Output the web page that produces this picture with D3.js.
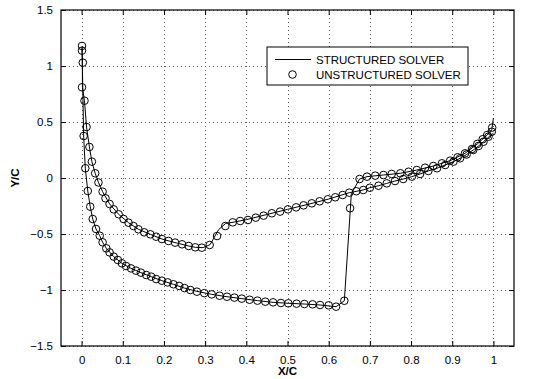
<!DOCTYPE html>
<html>
<head>
<meta charset="utf-8">
<script src="https://cdn.jsdelivr.net/npm/d3@7"></script>
<style>
  body { margin: 0; background: #fff; }
  svg { display: block; font-family: "Liberation Sans", Arial, sans-serif; }
</style>
</head>
<body>
<div id="chart"></div>
<script>
// Tick values
const xTicks = [0, 0.1, 0.2, 0.3, 0.4, 0.5, 0.6, 0.7, 0.8, 0.9, 1];
const yTicks = [-1.5, -1, -0.5, 0, 0.5, 1, 1.5];

// Structured solver: one continuous line, trailing edge -> leading edge -> trailing edge
const structuredLine = [
  [1.0, 0.40], [0.99, 0.37], [0.976, 0.324], [0.964, 0.286], [0.951, 0.25], [0.935, 0.21],
  [0.919, 0.176], [0.903, 0.146], [0.883, 0.116], [0.863, 0.087], [0.842, 0.063], [0.822, 0.036],
  [0.802, 0.012], [0.781, -0.009], [0.761, -0.027], [0.741, -0.048], [0.721, -0.069], [0.70, -0.087],
  [0.684, -0.107], [0.65, -0.131], [0.6, -0.188], [0.55, -0.235], [0.5, -0.28], [0.45, -0.326],
  [0.4, -0.372], [0.37, -0.394], [0.35, -0.405], [0.333, -0.46], [0.312, -0.595], [0.295, -0.622],
  [0.276, -0.619], [0.26, -0.607], [0.227, -0.577], [0.195, -0.545], [0.167, -0.503], [0.138, -0.458],
  [0.114, -0.399], [0.09, -0.324], [0.068, -0.232], [0.051, -0.122], [0.041, -0.04], [0.033, 0.042],
  [0.025, 0.146], [0.019, 0.277], [0.012, 0.455], [0.007, 0.69], [0.002, 0.81], [0.002, 1.03],
  [0.001, 1.17],
  [0.005, 0.375], [0.009, 0.087], [0.015, -0.116], [0.021, -0.256], [0.027, -0.366], [0.035, -0.455],
  [0.044, -0.515], [0.051, -0.574], [0.06, -0.628], [0.078, -0.702], [0.098, -0.762], [0.12, -0.807],
  [0.144, -0.845], [0.169, -0.881], [0.195, -0.917], [0.223, -0.949], [0.25, -0.983], [0.28, -1.012],
  [0.316, -1.039], [0.353, -1.06], [0.389, -1.077], [0.427, -1.095], [0.465, -1.11], [0.502, -1.119],
  [0.541, -1.125], [0.579, -1.134], [0.618, -1.149], [0.638, -1.096], [0.655, -0.14], [0.675, -0.009],
  [0.693, 0.012], [0.733, 0.027], [0.774, 0.042], [0.814, 0.071], [0.854, 0.107], [0.895, 0.155],
  [0.931, 0.22], [0.961, 0.304], [0.985, 0.384], [0.996, 0.43], [1.0, 0.535]
];

// Unstructured solver markers
const unstructStagnation = [
  [0.001, 1.179], [0.001, 1.137], [0.003, 1.03], [0.001, 0.81], [0.007, 0.69]
];
const unstructBranchA = [
  [0.012, 0.455], [0.019, 0.277], [0.025, 0.146], [0.033, 0.042], [0.041, -0.04], [0.051, -0.122],
  [0.058, -0.181], [0.068, -0.232], [0.078, -0.28], [0.09, -0.324], [0.102, -0.366], [0.114, -0.399],
  [0.126, -0.429], [0.138, -0.458], [0.152, -0.485], [0.167, -0.503], [0.181, -0.524], [0.195, -0.545],
  [0.211, -0.562], [0.227, -0.577], [0.244, -0.592], [0.26, -0.607], [0.276, -0.619], [0.292, -0.622],
  [0.311, -0.598], [0.329, -0.518], [0.349, -0.429], [0.367, -0.396], [0.385, -0.384], [0.404, -0.375],
  [0.423, -0.354], [0.442, -0.336], [0.462, -0.315], [0.482, -0.30], [0.501, -0.28], [0.521, -0.262],
  [0.539, -0.244], [0.559, -0.226], [0.578, -0.208], [0.598, -0.19], [0.616, -0.172], [0.634, -0.152],
  [0.65, -0.131], [0.667, -0.118], [0.684, -0.107], [0.70, -0.087], [0.721, -0.069], [0.741, -0.048],
  [0.761, -0.027], [0.781, -0.009], [0.802, 0.012], [0.822, 0.036], [0.842, 0.063], [0.863, 0.087],
  [0.883, 0.116], [0.903, 0.146], [0.919, 0.176], [0.935, 0.21], [0.951, 0.25], [0.964, 0.286],
  [0.976, 0.324], [0.988, 0.369]
];
const unstructBranchB = [
  [0.005, 0.375], [0.009, 0.087], [0.015, -0.116], [0.021, -0.256], [0.027, -0.366], [0.035, -0.455],
  [0.044, -0.515], [0.051, -0.574], [0.06, -0.628], [0.068, -0.664], [0.078, -0.702], [0.088, -0.732],
  [0.098, -0.762], [0.108, -0.786], [0.12, -0.807], [0.132, -0.827], [0.144, -0.845], [0.157, -0.866],
  [0.169, -0.881], [0.181, -0.902], [0.195, -0.917], [0.209, -0.932], [0.223, -0.949], [0.237, -0.964],
  [0.25, -0.983], [0.264, -1.0], [0.28, -1.015], [0.298, -1.028], [0.316, -1.039], [0.335, -1.051],
  [0.353, -1.06], [0.371, -1.068], [0.389, -1.077], [0.408, -1.087], [0.427, -1.095], [0.446, -1.104],
  [0.465, -1.11], [0.484, -1.116], [0.502, -1.119], [0.522, -1.122], [0.541, -1.125], [0.561, -1.128],
  [0.579, -1.134], [0.6, -1.137], [0.618, -1.149], [0.638, -1.096], [0.652, -0.27], [0.675, -0.009],
  [0.693, 0.012], [0.713, 0.021], [0.733, 0.027], [0.753, 0.036], [0.774, 0.042], [0.794, 0.056],
  [0.814, 0.071], [0.834, 0.092], [0.854, 0.107], [0.875, 0.131], [0.895, 0.155], [0.913, 0.185],
  [0.931, 0.22], [0.948, 0.259], [0.961, 0.304], [0.974, 0.346], [0.985, 0.384], [0.996, 0.413],
  [0.997, 0.45]
];

const legendLabels = ["STRUCTURED SOLVER", "UNSTRUCTURED SOLVER"];

const width = 536, height = 379;
const margin = {top: 10, right: 22, bottom: 33, left: 61};
const fontSize = "11.5px";

const svg = d3.select("#chart").append("svg")
  .attr("width", width)
  .attr("height", height);

const x = d3.scaleLinear().domain([-0.05, 1.05]).range([margin.left, width - margin.right]);
const y = d3.scaleLinear().domain([-1.5, 1.5]).range([height - margin.bottom, margin.top]);

const x0 = x.range()[0], x1 = x.range()[1];
const y0 = y.range()[0], y1 = y.range()[1];

// dotted grid
const grid = svg.append("g")
  .attr("stroke", "#555")
  .attr("stroke-width", 1)
  .attr("stroke-dasharray", "1,3");
grid.selectAll(".gx").data(xTicks).join("line")
  .attr("x1", d => Math.round(x(d)) + 0.5).attr("x2", d => Math.round(x(d)) + 0.5)
  .attr("y1", y1).attr("y2", y0);
grid.selectAll(".gy").data(yTicks).join("line")
  .attr("y1", d => Math.round(y(d)) + 0.5).attr("y2", d => Math.round(y(d)) + 0.5)
  .attr("x1", x0).attr("x2", x1);

// axes with inward ticks (MATLAB style)
const tickLen = 5;
const fmt = d3.format("");
function styleAxis(g) {
  g.select(".domain").remove();
  g.selectAll("line").attr("stroke", "#000");
  g.selectAll("text").attr("fill", "#000").style("font-size", fontSize)
    .style("font-family", "'Liberation Sans', Arial, sans-serif");
}
svg.append("g")
  .attr("transform", `translate(0,${y0})`)
  .call(d3.axisBottom(x).tickValues(xTicks).tickFormat(fmt).tickSizeInner(-tickLen).tickPadding(10))
  .call(styleAxis);
svg.append("g")
  .attr("transform", `translate(0,${y1})`)
  .call(d3.axisTop(x).tickValues(xTicks).tickFormat("").tickSizeInner(-tickLen))
  .call(styleAxis);
svg.append("g")
  .attr("transform", `translate(${x0},0)`)
  .call(d3.axisLeft(y).tickValues(yTicks).tickFormat(d3.format("")).tickSizeInner(-tickLen).tickPadding(8))
  .call(styleAxis);
svg.append("g")
  .attr("transform", `translate(${x1},0)`)
  .call(d3.axisRight(y).tickValues(yTicks).tickFormat("").tickSizeInner(-tickLen))
  .call(styleAxis);

// box
svg.append("rect")
  .attr("x", x0).attr("y", y1)
  .attr("width", x1 - x0).attr("height", y0 - y1)
  .attr("fill", "none").attr("stroke", "#000").attr("stroke-width", 1.2);

// structured line
const line = d3.line().x(d => x(d[0])).y(d => y(d[1]));
svg.append("path")
  .datum(structuredLine)
  .attr("d", line)
  .attr("fill", "none")
  .attr("stroke", "#000")
  .attr("stroke-width", 1);

// unstructured markers
const markers = [].concat(unstructStagnation, unstructBranchA, unstructBranchB);
svg.append("g").selectAll("circle").data(markers).join("circle")
  .attr("cx", d => x(d[0]))
  .attr("cy", d => y(d[1]))
  .attr("r", 3.8)
  .attr("fill", "none")
  .attr("stroke", "#000")
  .attr("stroke-width", 1);

// axis labels
svg.append("text")
  .attr("x", (x0 + x1) / 2).attr("y", 375)
  .attr("text-anchor", "middle")
  .style("font-size", fontSize).style("font-weight", "bold")
  .text("X/C");
svg.append("text")
  .attr("transform", `translate(19,${(y0 + y1) / 2}) rotate(-90)`)
  .attr("text-anchor", "middle")
  .style("font-size", fontSize).style("font-weight", "bold")
  .text("Y/C");

// legend
const legend = svg.append("g").attr("transform", "translate(267,47)");
legend.append("rect")
  .attr("width", 201).attr("height", 38)
  .attr("fill", "#fff").attr("stroke", "#000").attr("stroke-width", 1);
legend.append("line")
  .attr("x1", 8).attr("x2", 44).attr("y1", 12.5).attr("y2", 12.5)
  .attr("stroke", "#000").attr("stroke-width", 1);
legend.append("circle")
  .attr("cx", 25.5).attr("cy", 27.5).attr("r", 3.8)
  .attr("fill", "none").attr("stroke", "#000");
legend.selectAll("text").data(legendLabels).join("text")
  .attr("x", 49)
  .attr("y", (d, i) => 16.5 + i * 15)
  .style("font-size", fontSize)
  .text(d => d);
</script>
</body>
</html>
